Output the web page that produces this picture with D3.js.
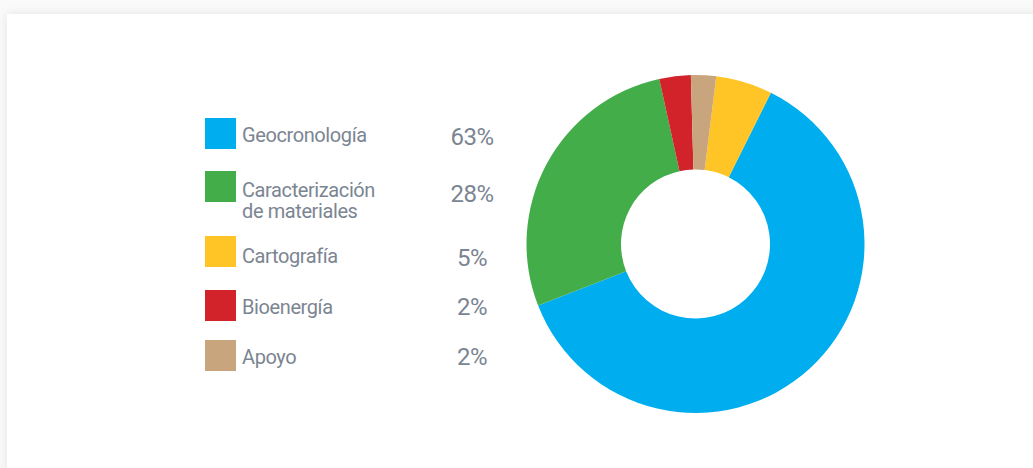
<!DOCTYPE html>
<html>
<head>
<meta charset="utf-8">
<script src="https://cdn.jsdelivr.net/npm/d3@7"></script>
<style>
  html, body { margin: 0; padding: 0; background: #fafafa; overflow: hidden; }
  .card {
    position: absolute; left: 7px; top: 14px; width: 1100px; height: 520px;
    background: #fff; box-shadow: 0 0 10px rgba(0,0,0,0.09);
  }
  svg { position: absolute; left: 0; top: 0; }
  text { font-family: Roboto, "Open Sans", sans-serif; fill: #7b8592; }
</style>
</head>
<body>
<div class="card"></div>
<svg id="chart" width="1033" height="468"></svg>
<script>
// chart data
const categories = ["Geocronología", "Caracterización\nde materiales", "Cartografía", "Bioenergía", "Apoyo"];
const pctLabels = ["63%", "28%", "5%", "2%", "2%"];
// slice sizes as drawn in the ring (the printed labels are rounded)
const shares = [61.7, 27.5, 5.4, 3.0, 2.4];
const colors = ["#00aeef", "#43ad4a", "#ffc425", "#d2232a", "#c9a57e"];
// clockwise order of slices round the ring
const ringOrder = [0, 1, 3, 4, 2];

// layout
const cx = 695.5, cy = 244, outerR = 169, innerR = 74.5;
const startDeg = 26.5;
const swatchX = 205, swatchSize = 31, labelX = 242, pctX = 472;
const rowTop = [118, 171, 236, 290, 340];
const labelBase = [142, 196.5, 263, 314, 364];
const pctBase = [144.5, 201.5, 265.5, 315, 365];

const data = categories.map((name, i) => ({
  name: name, value: shares[i], pct: pctLabels[i], color: colors[i], rank: ringOrder.indexOf(i)
}));

const svg = d3.select("#chart");

const pie = d3.pie()
  .sort((a, b) => a.rank - b.rank)
  .value(d => d.value)
  .startAngle(startDeg * Math.PI / 180)
  .endAngle(startDeg * Math.PI / 180 + 2 * Math.PI);

const arc = d3.arc().innerRadius(innerR).outerRadius(outerR);

svg.append("g")
  .attr("transform", `translate(${cx},${cy})`)
  .selectAll("path")
  .data(pie(data))
  .enter()
  .append("path")
  .attr("d", arc)
  .attr("fill", d => d.data.color);

// legend
const legend = svg.append("g");

legend.selectAll("rect")
  .data(data)
  .enter()
  .append("rect")
  .attr("x", swatchX)
  .attr("y", (d, i) => rowTop[i])
  .attr("width", swatchSize)
  .attr("height", swatchSize)
  .attr("fill", d => d.color);

const labels = legend.selectAll("text.label")
  .data(data)
  .enter()
  .append("text")
  .attr("class", "label")
  .attr("x", labelX)
  .attr("y", (d, i) => labelBase[i])
  .attr("font-size", 20)
  .attr("letter-spacing", "-0.4px");

labels.selectAll("tspan")
  .data(d => d.name.split("\n"))
  .enter()
  .append("tspan")
  .attr("x", labelX)
  .attr("dy", (d, i) => i ? 21 : 0)
  .text(d => d);

legend.selectAll("text.pct")
  .data(data)
  .enter()
  .append("text")
  .attr("class", "pct")
  .attr("x", pctX)
  .attr("y", (d, i) => pctBase[i])
  .attr("font-size", 24)
  .attr("letter-spacing", "-0.6px")
  .style("text-anchor", "middle")
  .text(d => d.pct);
</script>
</body>
</html>
